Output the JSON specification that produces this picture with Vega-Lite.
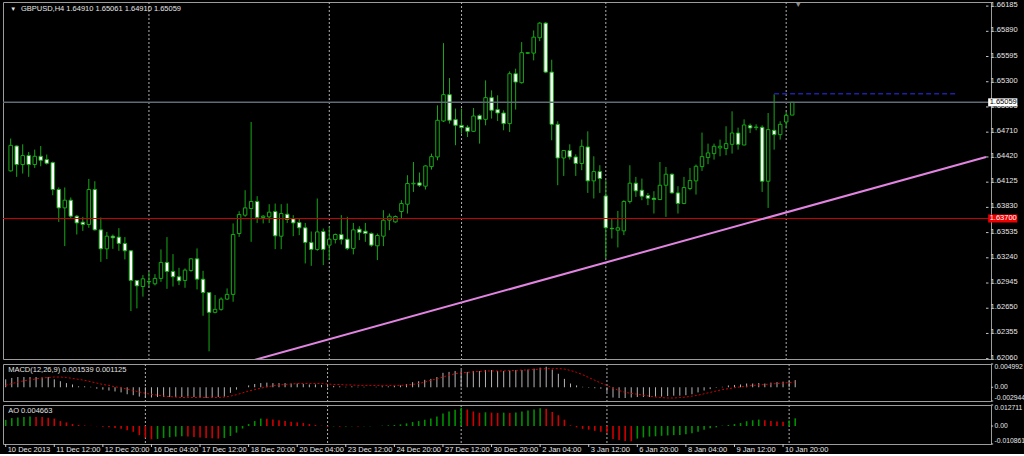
{
"$schema": "https://vega.github.io/schema/vega-lite/v6.json",
"background": "#000000",
"padding": {"left": 1, "top": 0, "right": 0, "bottom": 0},
"spacing": 1,
"config": {
 "view": {"stroke": "#9c9c9c", "strokeWidth": 1},
 "text": {"font": "Liberation Sans"}
},
"datasets": {"bars": [
{"i":0,"o":1.64257,"h":1.64635,"l":1.6425,"c":1.64556,"m":0.0017,"s":0.0004,"a":0.0037},
{"i":1,"o":1.64548,"h":1.64555,"l":1.64187,"c":1.64331,"m":0.002,"s":0.0008,"a":0.0048},
{"i":2,"o":1.64331,"h":1.64568,"l":1.64226,"c":1.64436,"m":0.0022,"s":0.0011,"a":0.0052},
{"i":3,"o":1.64436,"h":1.64478,"l":1.64187,"c":1.64331,"m":0.0022,"s":0.0014,"a":0.0055},
{"i":4,"o":1.64331,"h":1.64506,"l":1.64292,"c":1.64428,"m":0.0022,"s":0.0016,"a":0.0057},
{"i":5,"o":1.64428,"h":1.64548,"l":1.64311,"c":1.64381,"m":0.0022,"s":0.0018,"a":0.0055},
{"i":6,"o":1.64389,"h":1.64448,"l":1.64331,"c":1.64346,"m":0.0021,"s":0.002,"a":0.0054},
{"i":7,"o":1.64354,"h":1.64366,"l":1.63972,"c":1.64039,"m":0.0022,"s":0.0021,"a":0.005},
{"i":8,"o":1.64039,"h":1.64063,"l":1.6366,"c":1.63824,"m":0.0017,"s":0.0022,"a":0.0045},
{"i":9,"o":1.63824,"h":1.64063,"l":1.63377,"c":1.63914,"m":0.0013,"s":0.0022,"a":0.003},
{"i":10,"o":1.63914,"h":1.63946,"l":1.637,"c":1.63727,"m":0.0009,"s":0.0021,"a":0.0022},
{"i":11,"o":1.63727,"h":1.6374,"l":1.63513,"c":1.63648,"m":0.0006,"s":0.0019,"a":0.0012},
{"i":12,"o":1.63657,"h":1.63719,"l":1.63555,"c":1.6363,"m":0.0002,"s":0.0017,"a":0.0006},
{"i":13,"o":1.6363,"h":1.64163,"l":1.63591,"c":1.64039,"m":0.0002,"s":0.0015,"a":0.0003},
{"i":14,"o":1.64039,"h":1.64136,"l":1.6356,"c":1.63567,"m":0.0001,"s":0.0012,"a":0.0001},
{"i":15,"o":1.63567,"h":1.63712,"l":1.63193,"c":1.63345,"m":-0.0003,"s":0.0009,"a":-0.0001},
{"i":16,"o":1.63345,"h":1.63543,"l":1.63225,"c":1.63493,"m":-0.0005,"s":0.0006,"a":-0.0004},
{"i":17,"o":1.63493,"h":1.63513,"l":1.63345,"c":1.63474,"m":-0.0007,"s":0.0004,"a":-0.0008},
{"i":18,"o":1.63482,"h":1.63587,"l":1.63322,"c":1.63408,"m":-0.0009,"s":0.0001,"a":-0.0012},
{"i":19,"o":1.63408,"h":1.63482,"l":1.63221,"c":1.63322,"m":-0.0011,"s":-0.0001,"a":-0.0016},
{"i":20,"o":1.63322,"h":1.6333,"l":1.62617,"c":1.62975,"m":-0.0015,"s":-0.0004,"a":-0.0025},
{"i":21,"o":1.62975,"h":1.6298,"l":1.62648,"c":1.62912,"m":-0.0017,"s":-0.0007,"a":-0.0035},
{"i":22,"o":1.62904,"h":1.63038,"l":1.62786,"c":1.62994,"m":-0.002,"s":-0.001,"a":-0.0055},
{"i":23,"o":1.62959,"h":1.63076,"l":1.62904,"c":1.62962,"m":-0.0022,"s":-0.0013,"a":-0.007},
{"i":24,"o":1.62936,"h":1.63049,"l":1.62917,"c":1.62999,"m":-0.0022,"s":-0.0015,"a":-0.008},
{"i":25,"o":1.62999,"h":1.63338,"l":1.62959,"c":1.63186,"m":-0.0021,"s":-0.0017,"a":-0.0078},
{"i":26,"o":1.63186,"h":1.63482,"l":1.62877,"c":1.63081,"m":-0.0021,"s":-0.0019,"a":-0.0072},
{"i":27,"o":1.63081,"h":1.63283,"l":1.62904,"c":1.63018,"m":-0.0021,"s":-0.002,"a":-0.0068},
{"i":28,"o":1.63018,"h":1.63123,"l":1.62921,"c":1.62971,"m":-0.0021,"s":-0.0021,"a":-0.0064},
{"i":29,"o":1.62975,"h":1.63116,"l":1.62889,"c":1.63096,"m":-0.0021,"s":-0.0022,"a":-0.0062},
{"i":30,"o":1.63092,"h":1.63236,"l":1.63076,"c":1.63228,"m":-0.002,"s":-0.0022,"a":-0.0064},
{"i":31,"o":1.63228,"h":1.6335,"l":1.6287,"c":1.6299,"m":-0.0021,"s":-0.0022,"a":-0.0066},
{"i":32,"o":1.6299,"h":1.63088,"l":1.62562,"c":1.62833,"m":-0.0022,"s":-0.0022,"a":-0.0069},
{"i":33,"o":1.62833,"h":1.6284,"l":1.62146,"c":1.62602,"m":-0.0023,"s":-0.0022,"a":-0.0072},
{"i":34,"o":1.62602,"h":1.62804,"l":1.6259,"c":1.62637,"m":-0.0022,"s":-0.0022,"a":-0.0074},
{"i":35,"o":1.62637,"h":1.62777,"l":1.62621,"c":1.62757,"m":-0.0021,"s":-0.0022,"a":-0.0076},
{"i":36,"o":1.62757,"h":1.62882,"l":1.62746,"c":1.62812,"m":-0.002,"s":-0.0021,"a":-0.0072},
{"i":37,"o":1.62812,"h":1.63642,"l":1.62726,"c":1.63513,"m":-0.0012,"s":-0.0019,"a":-0.006},
{"i":38,"o":1.63524,"h":1.63785,"l":1.63485,"c":1.63746,"m":-0.0005,"s":-0.0016,"a":-0.004},
{"i":39,"o":1.63739,"h":1.64031,"l":1.63719,"c":1.63824,"m":0.0,"s":-0.0012,"a":-0.0015},
{"i":40,"o":1.63817,"h":1.64829,"l":1.63427,"c":1.63899,"m":0.0004,"s":-0.0008,"a":0.0012},
{"i":41,"o":1.63899,"h":1.63961,"l":1.63648,"c":1.63712,"m":0.0007,"s":-0.0005,"a":0.003},
{"i":42,"o":1.63712,"h":1.63739,"l":1.63642,"c":1.63727,"m":0.0009,"s":-0.0002,"a":0.0045},
{"i":43,"o":1.63719,"h":1.63867,"l":1.63648,"c":1.63774,"m":0.001,"s":0.0001,"a":0.0044},
{"i":44,"o":1.63782,"h":1.63875,"l":1.63341,"c":1.63497,"m":0.0009,"s":0.0003,"a":0.004},
{"i":45,"o":1.63493,"h":1.63867,"l":1.63341,"c":1.63758,"m":0.0009,"s":0.0005,"a":0.0035},
{"i":46,"o":1.6375,"h":1.63875,"l":1.63648,"c":1.63688,"m":0.0009,"s":0.0006,"a":0.003},
{"i":47,"o":1.63695,"h":1.63739,"l":1.63493,"c":1.63648,"m":0.0008,"s":0.0007,"a":0.0026},
{"i":48,"o":1.63653,"h":1.63695,"l":1.63505,"c":1.63591,"m":0.0008,"s":0.0008,"a":0.0022},
{"i":49,"o":1.63591,"h":1.63648,"l":1.63174,"c":1.6342,"m":0.0007,"s":0.0008,"a":0.0018},
{"i":50,"o":1.6342,"h":1.63548,"l":1.63146,"c":1.63338,"m":0.0006,"s":0.0008,"a":0.0012},
{"i":51,"o":1.63338,"h":1.63934,"l":1.63322,"c":1.63543,"m":0.0006,"s":0.0008,"a":0.0006},
{"i":52,"o":1.63548,"h":1.63583,"l":1.63154,"c":1.63338,"m":0.0005,"s":0.0008,"a":0.0002},
{"i":53,"o":1.63388,"h":1.63602,"l":1.63213,"c":1.63458,"m":0.0004,"s":0.0007,"a":-0.0005},
{"i":54,"o":1.63455,"h":1.63524,"l":1.63408,"c":1.63513,"m":0.0003,"s":0.0006,"a":-0.0002},
{"i":55,"o":1.63513,"h":1.63739,"l":1.63396,"c":1.63455,"m":0.0002,"s":0.0006,"a":-0.0004},
{"i":56,"o":1.63458,"h":1.63719,"l":1.6333,"c":1.6335,"m":0.0001,"s":0.0005,"a":-0.0003},
{"i":57,"o":1.6335,"h":1.63648,"l":1.6328,"c":1.63567,"m":0.0002,"s":0.0005,"a":-0.0002},
{"i":58,"o":1.63575,"h":1.6361,"l":1.63447,"c":1.63537,"m":0.0001,"s":0.0004,"a":-0.0003},
{"i":59,"o":1.63552,"h":1.63648,"l":1.63427,"c":1.63524,"m":0.0001,"s":0.0004,"a":-0.0002},
{"i":60,"o":1.63524,"h":1.63537,"l":1.63369,"c":1.63388,"m":0.0,"s":0.0004,"a":-0.0001},
{"i":61,"o":1.6338,"h":1.63524,"l":1.63213,"c":1.63501,"m":0.0001,"s":0.0004,"a":0.0},
{"i":62,"o":1.63493,"h":1.63797,"l":1.63377,"c":1.6368,"m":0.0002,"s":0.0004,"a":0.0002},
{"i":63,"o":1.6368,"h":1.63758,"l":1.63563,"c":1.63727,"m":0.0002,"s":0.0004,"a":0.0004},
{"i":64,"o":1.6366,"h":1.63735,"l":1.6365,"c":1.63723,"m":0.0003,"s":0.0004,"a":0.0006},
{"i":65,"o":1.63782,"h":1.63914,"l":1.637,"c":1.63875,"m":0.0004,"s":0.0004,"a":0.001},
{"i":66,"o":1.63867,"h":1.64206,"l":1.63758,"c":1.64109,"m":0.0007,"s":0.0005,"a":0.0016},
{"i":67,"o":1.64105,"h":1.64361,"l":1.64011,"c":1.64112,"m":0.0011,"s":0.0006,"a":0.0024},
{"i":68,"o":1.64117,"h":1.64238,"l":1.6407,"c":1.64089,"m":0.0013,"s":0.0008,"a":0.003},
{"i":69,"o":1.64078,"h":1.64323,"l":1.64039,"c":1.64315,"m":0.0016,"s":0.0011,"a":0.0038},
{"i":70,"o":1.64307,"h":1.64459,"l":1.64272,"c":1.64424,"m":0.0018,"s":0.0015,"a":0.0046},
{"i":71,"o":1.6442,"h":1.65024,"l":1.64381,"c":1.64849,"m":0.0022,"s":0.0018,"a":0.0058},
{"i":72,"o":1.64841,"h":1.65752,"l":1.64829,"c":1.65149,"m":0.0031,"s":0.0022,"a":0.0075},
{"i":73,"o":1.65149,"h":1.65343,"l":1.6481,"c":1.64849,"m":0.0033,"s":0.0026,"a":0.0088},
{"i":74,"o":1.64857,"h":1.64986,"l":1.64557,"c":1.6479,"m":0.0035,"s":0.0029,"a":0.0098},
{"i":75,"o":1.6479,"h":1.64986,"l":1.64693,"c":1.64763,"m":0.0037,"s":0.0031,"a":0.011},
{"i":76,"o":1.64767,"h":1.6479,"l":1.64654,"c":1.6472,"m":0.0033,"s":0.0032,"a":0.01},
{"i":77,"o":1.6472,"h":1.64993,"l":1.64712,"c":1.64899,"m":0.0035,"s":0.0033,"a":0.0088},
{"i":78,"o":1.64904,"h":1.64919,"l":1.64576,"c":1.6486,"m":0.0035,"s":0.0034,"a":0.008},
{"i":79,"o":1.6486,"h":1.65316,"l":1.6479,"c":1.65114,"m":0.0037,"s":0.0035,"a":0.0083},
{"i":80,"o":1.65114,"h":1.65199,"l":1.64869,"c":1.64966,"m":0.0037,"s":0.0035,"a":0.0081},
{"i":81,"o":1.64974,"h":1.65141,"l":1.64841,"c":1.64934,"m":0.0035,"s":0.0035,"a":0.0079},
{"i":82,"o":1.64934,"h":1.64966,"l":1.64732,"c":1.6481,"m":0.0035,"s":0.0035,"a":0.0081},
{"i":83,"o":1.6481,"h":1.65421,"l":1.64712,"c":1.65394,"m":0.0036,"s":0.0036,"a":0.0079},
{"i":84,"o":1.65394,"h":1.65453,"l":1.64974,"c":1.65296,"m":0.0037,"s":0.0036,"a":0.0082},
{"i":85,"o":1.65289,"h":1.65764,"l":1.65278,"c":1.6564,"m":0.0037,"s":0.0037,"a":0.0088},
{"i":86,"o":1.65633,"h":1.65648,"l":1.65625,"c":1.6564,"m":0.0038,"s":0.0037,"a":0.0094},
{"i":87,"o":1.65635,"h":1.659,"l":1.6555,"c":1.65822,"m":0.004,"s":0.0038,"a":0.01},
{"i":88,"o":1.65815,"h":1.65997,"l":1.65775,"c":1.65986,"m":0.0042,"s":0.0039,"a":0.0108},
{"i":89,"o":1.65986,"h":1.65997,"l":1.65401,"c":1.65413,"m":0.0044,"s":0.004,"a":0.0104},
{"i":90,"o":1.65413,"h":1.65558,"l":1.64615,"c":1.64802,"m":0.0038,"s":0.004,"a":0.0085},
{"i":91,"o":1.64802,"h":1.64837,"l":1.64089,"c":1.64408,"m":0.0029,"s":0.004,"a":0.0065},
{"i":92,"o":1.64408,"h":1.645,"l":1.64198,"c":1.64495,"m":0.0018,"s":0.0039,"a":0.0038},
{"i":93,"o":1.64495,"h":1.64568,"l":1.64389,"c":1.6442,"m":0.0008,"s":0.0036,"a":0.0004},
{"i":94,"o":1.6442,"h":1.64451,"l":1.64198,"c":1.64343,"m":0.0004,"s":0.0032,"a":-0.0008},
{"i":95,"o":1.64343,"h":1.64623,"l":1.64265,"c":1.64545,"m":0.0001,"s":0.0027,"a":-0.0017},
{"i":96,"o":1.64537,"h":1.6472,"l":1.63999,"c":1.6414,"m":-0.0001,"s":0.0021,"a":-0.0022},
{"i":97,"o":1.6414,"h":1.64428,"l":1.63934,"c":1.64249,"m":-0.0002,"s":0.0015,"a":-0.0029},
{"i":98,"o":1.64249,"h":1.64323,"l":1.63999,"c":1.64167,"m":-0.0003,"s":0.0009,"a":-0.0035},
{"i":99,"o":1.63964,"h":1.64148,"l":1.63233,"c":1.63591,"m":-0.001,"s":0.0004,"a":-0.004},
{"i":100,"o":1.63585,"h":1.637,"l":1.63466,"c":1.6358,"m":-0.0022,"s":-0.0002,"a":-0.0078},
{"i":101,"o":1.63563,"h":1.63789,"l":1.63361,"c":1.63591,"m":-0.0023,"s":-0.0007,"a":-0.0084},
{"i":102,"o":1.63555,"h":1.63914,"l":1.63505,"c":1.63899,"m":-0.0023,"s":-0.0011,"a":-0.009},
{"i":103,"o":1.63899,"h":1.64323,"l":1.63875,"c":1.64113,"m":-0.0022,"s":-0.0013,"a":-0.0092},
{"i":104,"o":1.64113,"h":1.64187,"l":1.63953,"c":1.64023,"m":-0.0021,"s":-0.0015,"a":-0.0076},
{"i":105,"o":1.64031,"h":1.64167,"l":1.63914,"c":1.63961,"m":-0.0021,"s":-0.0017,"a":-0.0069},
{"i":106,"o":1.63969,"h":1.63999,"l":1.63856,"c":1.63937,"m":-0.0021,"s":-0.0019,"a":-0.0064},
{"i":107,"o":1.63937,"h":1.64019,"l":1.63758,"c":1.63922,"m":-0.002,"s":-0.0021,"a":-0.0062},
{"i":108,"o":1.63922,"h":1.64361,"l":1.63914,"c":1.64089,"m":-0.002,"s":-0.0022,"a":-0.0059},
{"i":109,"o":1.64089,"h":1.64303,"l":1.63719,"c":1.64218,"m":-0.0019,"s":-0.0023,"a":-0.0057},
{"i":110,"o":1.64218,"h":1.64226,"l":1.63992,"c":1.63999,"m":-0.0018,"s":-0.0023,"a":-0.0055},
{"i":111,"o":1.63999,"h":1.64078,"l":1.63758,"c":1.63875,"m":-0.0018,"s":-0.0022,"a":-0.0054},
{"i":112,"o":1.63875,"h":1.64187,"l":1.63867,"c":1.64062,"m":-0.0017,"s":-0.0021,"a":-0.0049},
{"i":113,"o":1.64051,"h":1.64292,"l":1.64031,"c":1.64144,"m":-0.0015,"s":-0.0019,"a":-0.0043},
{"i":114,"o":1.6414,"h":1.64331,"l":1.6398,"c":1.64311,"m":-0.0011,"s":-0.0017,"a":-0.0035},
{"i":115,"o":1.64307,"h":1.64705,"l":1.64257,"c":1.64424,"m":-0.0007,"s":-0.0014,"a":-0.0022},
{"i":116,"o":1.64413,"h":1.64576,"l":1.64335,"c":1.64467,"m":-0.0004,"s":-0.0011,"a":-0.0014},
{"i":117,"o":1.64459,"h":1.64576,"l":1.64389,"c":1.64545,"m":-0.0001,"s":-0.0008,"a":-0.0008},
{"i":118,"o":1.64526,"h":1.64623,"l":1.64428,"c":1.64545,"m":0.0001,"s":-0.0005,"a":0.0002},
{"i":119,"o":1.64518,"h":1.64779,"l":1.6444,"c":1.64576,"m":0.0004,"s":-0.0003,"a":0.0006},
{"i":120,"o":1.64568,"h":1.64954,"l":1.64459,"c":1.647,"m":0.0005,"s":-0.0001,"a":0.0012},
{"i":121,"o":1.647,"h":1.64763,"l":1.64506,"c":1.64568,"m":0.0006,"s":0.0001,"a":0.0018},
{"i":122,"o":1.6456,"h":1.6486,"l":1.64557,"c":1.64794,"m":0.0008,"s":0.0002,"a":0.0029},
{"i":123,"o":1.64786,"h":1.6481,"l":1.647,"c":1.64759,"m":0.0008,"s":0.0004,"a":0.0035},
{"i":124,"o":1.64763,"h":1.64802,"l":1.64732,"c":1.6477,"m":0.0009,"s":0.0005,"a":0.0039},
{"i":125,"o":1.64767,"h":1.6479,"l":1.64011,"c":1.64136,"m":0.0008,"s":0.0006,"a":0.0035},
{"i":126,"o":1.64136,"h":1.64934,"l":1.63824,"c":1.6474,"m":0.001,"s":0.0007,"a":0.0031},
{"i":127,"o":1.64732,"h":1.65153,"l":1.64506,"c":1.64681,"m":0.0011,"s":0.0008,"a":0.0027},
{"i":128,"o":1.64681,"h":1.64837,"l":1.64623,"c":1.64802,"m":0.0012,"s":0.0009,"a":0.0026},
{"i":129,"o":1.64829,"h":1.64946,"l":1.64752,"c":1.64907,"m":0.0013,"s":0.001,"a":0.0033},
{"i":130,"o":1.6491,"h":1.65061,"l":1.6491,"c":1.65059,"m":0.001539,"s":0.001125,"a":0.004663}
],
"seps": [{"t":23},{"t":53},{"t":75},{"t":99},{"t":129}],
"one": [{}],
"priceTicks": [{"v":1.66185},{"v":1.6589},{"v":1.65595},{"v":1.653},{"v":1.65005},{"v":1.6471},{"v":1.6442},{"v":1.64125},{"v":1.6383},{"v":1.63535},{"v":1.6324},{"v":1.62945},{"v":1.6265},{"v":1.62355},{"v":1.6206}],
"macdTicks": [{"v":0.004992},{"v":0},{"v":-0.002944}],
"aoTicks": [{"v":0.012711},{"v":0},{"v":-0.010861}],
"timeTicks": [{"t":0,"lab":"10 Dec 2013"},{"t":8,"lab":"11 Dec 12:00"},{"t":16,"lab":"12 Dec 20:00"},{"t":24,"lab":"16 Dec 04:00"},{"t":32,"lab":"17 Dec 12:00"},{"t":40,"lab":"18 Dec 20:00"},{"t":48,"lab":"20 Dec 04:00"},{"t":56,"lab":"23 Dec 12:00"},{"t":64,"lab":"24 Dec 20:00"},{"t":72,"lab":"27 Dec 12:00"},{"t":80,"lab":"30 Dec 20:00"},{"t":88,"lab":"2 Jan 04:00"},{"t":96,"lab":"3 Jan 12:00"},{"t":104,"lab":"6 Jan 20:00"},{"t":112,"lab":"8 Jan 04:00"},{"t":120,"lab":"9 Jan 12:00"},{"t":128,"lab":"10 Jan 20:00"}]
},
"vconcat": [
{
 "width": 988, "height": 357,
 "data": {"name": "bars"},
 "layer": [
  {"data": {"name": "seps"}, "mark": {"type": "rule", "color": "#b0b0b0", "strokeDash": [2, 2], "strokeWidth": 1},
   "encoding": {"x": {"field": "t", "type": "quantitative", "scale": {"domain": [-0.445, 162.24], "nice": false, "zero": false}, "axis": null}}},
  {"mark": {"type": "rule", "color": "#16a816", "strokeWidth": 1, "clip": true},
   "encoding": {"x": {"field": "i", "type": "quantitative", "scale": {"domain": [-0.445, 162.24], "nice": false, "zero": false}, "axis": null},
    "y": {"field": "l", "type": "quantitative", "scale": {"domain": [1.62056, 1.66233], "nice": false, "zero": false}, "axis": null},
    "y2": {"field": "h"}}},
  {"mark": {"type": "bar", "width": 3.5, "stroke": "#16a816", "strokeWidth": 1, "orient": "vertical", "clip": true},
   "encoding": {"x": {"field": "i", "type": "quantitative", "axis": null},
    "y": {"field": "o", "type": "quantitative", "axis": null},
    "y2": {"field": "c"},
    "fill": {"condition": {"test": "datum.o > datum.c", "value": "#ffffff"}, "value": "#000000"}}},
  {"data": {"name": "one"}, "mark": {"type": "rule", "color": "#cc0000", "strokeWidth": 1},
   "encoding": {"y": {"datum": 1.637, "type": "quantitative", "axis": null}}},
  {"data": {"name": "one"}, "mark": {"type": "rule", "color": "#5f6b77", "strokeWidth": 1.5},
   "encoding": {"y": {"datum": 1.65059, "type": "quantitative", "axis": null}}},
  {"data": {"name": "one"}, "mark": {"type": "rule", "color": "#1f1fa8", "strokeWidth": 1.5, "strokeDash": [5, 3]},
   "encoding": {"x": {"datum": 127, "type": "quantitative", "axis": null},
    "x2": {"datum": 157.2},
    "y": {"datum": 1.6516, "type": "quantitative", "axis": null}}},
  {"data": {"values": [{"ti": 40, "tp": 1.62034}, {"ti": 162.24, "tp": 1.6442}]}, "mark": {"type": "line", "color": "#e284e2", "strokeWidth": 2, "clip": true},
   "encoding": {"x": {"field": "ti", "type": "quantitative", "axis": null},
    "y": {"field": "tp", "type": "quantitative", "axis": null}}},
  {"data": {"name": "one"}, "mark": {"type": "text", "align": "center", "baseline": "middle", "fontSize": 6, "color": "#e6e6e6"},
   "encoding": {"x": {"datum": 0.43, "type": "quantitative", "axis": null}, "y": {"datum": 1.66154, "type": "quantitative", "axis": null}, "text": {"value": "▼"}}},
  {"data": {"name": "one"}, "mark": {"type": "text", "align": "left", "baseline": "middle", "fontSize": 7.5, "color": "#e6e6e6"},
   "encoding": {"x": {"datum": 1.7, "type": "quantitative", "axis": null}, "y": {"datum": 1.66154, "type": "quantitative", "axis": null}, "text": {"value": "GBPUSD,H4 1.64910 1.65061 1.64910 1.65059"}}},
  {"data": {"name": "one"}, "mark": {"type": "text", "align": "center", "baseline": "middle", "fontSize": 7, "color": "#8c8c8c"},
   "encoding": {"x": {"datum": 131.0, "type": "quantitative", "axis": null}, "y": {"datum": 1.66201, "type": "quantitative", "axis": null}, "text": {"value": "▼"}}},
  {"data": {"name": "priceTicks"}, "mark": {"type": "rule", "color": "#c8c8c8", "strokeWidth": 1, "clip": false},
   "encoding": {"x": {"datum": 162.24, "type": "quantitative", "axis": null}, "x2": {"datum": 162.65}, "y": {"field": "v", "type": "quantitative", "axis": null}}},
  {"data": {"name": "priceTicks"}, "mark": {"type": "text", "align": "left", "baseline": "middle", "fontSize": 7.5, "color": "#e6e6e6", "clip": false, "dy": -1},
   "encoding": {"x": {"datum": 163.0, "type": "quantitative", "axis": null}, "y": {"field": "v", "type": "quantitative", "axis": null}, "text": {"field": "v", "type": "quantitative", "format": ".5f"}}},
  {"data": {"name": "one"}, "mark": {"type": "rect", "color": "#ffffff", "clip": false},
   "encoding": {"x": {"datum": 162.6, "type": "quantitative", "axis": null}, "x2": {"datum": 167.45}, "y": {"datum": 1.65106, "type": "quantitative", "axis": null}, "y2": {"datum": 1.65012}}},
  {"data": {"name": "one"}, "mark": {"type": "text", "align": "left", "baseline": "middle", "fontSize": 7.5, "color": "#000000", "clip": false},
   "encoding": {"x": {"datum": 162.85, "type": "quantitative", "axis": null}, "y": {"datum": 1.65059, "type": "quantitative", "axis": null}, "text": {"value": "1.65059"}}},
  {"data": {"name": "one"}, "mark": {"type": "rect", "color": "#ee0000", "clip": false},
   "encoding": {"x": {"datum": 162.6, "type": "quantitative", "axis": null}, "x2": {"datum": 167.45}, "y": {"datum": 1.63747, "type": "quantitative", "axis": null}, "y2": {"datum": 1.63653}}},
  {"data": {"name": "one"}, "mark": {"type": "text", "align": "left", "baseline": "middle", "fontSize": 7.5, "color": "#ffffff", "clip": false},
   "encoding": {"x": {"datum": 162.85, "type": "quantitative", "axis": null}, "y": {"datum": 1.637, "type": "quantitative", "axis": null}, "text": {"value": "1.63700"}}}
 ]
},
{
 "width": 988, "height": 37,
 "data": {"name": "bars"},
 "layer": [
  {"data": {"name": "seps"}, "mark": {"type": "rule", "color": "#b0b0b0", "strokeDash": [2, 2], "strokeWidth": 1},
   "encoding": {"x": {"field": "t", "type": "quantitative", "scale": {"domain": [-0.445, 162.24], "nice": false, "zero": false}, "axis": null}}},
  {"mark": {"type": "rule", "color": "#b4b4b4", "strokeWidth": 1},
   "encoding": {"x": {"field": "i", "type": "quantitative", "scale": {"domain": [-0.445, 162.24], "nice": false, "zero": false}, "axis": null},
    "y": {"field": "m", "type": "quantitative", "scale": {"domain": [-0.002944, 0.004992], "nice": false, "zero": false}, "axis": null},
    "y2": {"datum": 0}}},
  {"mark": {"type": "line", "color": "#d40000", "strokeWidth": 1, "strokeDash": [2, 2]},
   "encoding": {"x": {"field": "i", "type": "quantitative", "axis": null},
    "y": {"field": "s", "type": "quantitative", "axis": null}}},
  {"data": {"name": "one"}, "mark": {"type": "text", "align": "left", "baseline": "middle", "fontSize": 7.5, "color": "#e0e0e0"},
   "encoding": {"x": {"datum": 0.4, "type": "quantitative", "axis": null}, "y": {"datum": 0.003598, "type": "quantitative", "axis": null}, "text": {"value": "MACD(12,26,9) 0.001539 0.001125"}}},
  {"data": {"name": "macdTicks"}, "mark": {"type": "rule", "color": "#c8c8c8", "strokeWidth": 1, "clip": false},
   "encoding": {"x": {"datum": 162.24, "type": "quantitative", "axis": null}, "x2": {"datum": 162.6}, "y": {"field": "v", "type": "quantitative", "axis": null}}},
  {"data": {"name": "one"}, "mark": {"type": "text", "align": "left", "baseline": "top", "fontSize": 6.8, "color": "#e6e6e6", "clip": false},
   "encoding": {"x": {"datum": 162.82, "type": "quantitative", "axis": null}, "y": {"datum": 0.004992, "type": "quantitative", "axis": null}, "text": {"value": "0.004992"}}},
  {"data": {"name": "one"}, "mark": {"type": "text", "align": "left", "baseline": "middle", "fontSize": 6.8, "color": "#e6e6e6", "clip": false},
   "encoding": {"x": {"datum": 162.82, "type": "quantitative", "axis": null}, "y": {"datum": 0, "type": "quantitative", "axis": null}, "text": {"value": "0.00"}}},
  {"data": {"name": "one"}, "mark": {"type": "text", "align": "left", "baseline": "bottom", "fontSize": 6.8, "color": "#e6e6e6", "clip": false},
   "encoding": {"x": {"datum": 162.82, "type": "quantitative", "axis": null}, "y": {"datum": -0.002944, "type": "quantitative", "axis": null}, "text": {"value": "-0.002944"}}}
 ]
},
{
 "width": 988, "height": 39,
 "data": {"name": "bars"},
 "layer": [
  {"data": {"name": "seps"}, "mark": {"type": "rule", "color": "#b0b0b0", "strokeDash": [2, 2], "strokeWidth": 1},
   "encoding": {"x": {"field": "t", "type": "quantitative", "scale": {"domain": [-0.445, 162.24], "nice": false, "zero": false}, "axis": null}}},
  {"transform": [{"window": [{"op": "lag", "field": "a", "as": "ap"}], "sort": [{"field": "i"}]}],
   "mark": {"type": "rule", "strokeWidth": 1.6},
   "encoding": {"x": {"field": "i", "type": "quantitative", "scale": {"domain": [-0.445, 162.24], "nice": false, "zero": false}, "axis": null},
    "y": {"field": "a", "type": "quantitative", "scale": {"domain": [-0.010861, 0.012711], "nice": false, "zero": false}, "axis": null},
    "y2": {"datum": 0},
    "color": {"condition": {"test": "datum.ap == null || datum.a > datum.ap", "value": "#009000"}, "value": "#d00000"}}},
  {"data": {"name": "one"}, "mark": {"type": "text", "align": "left", "baseline": "middle", "fontSize": 7.5, "color": "#e0e0e0"},
   "encoding": {"x": {"datum": 0.4, "type": "quantitative", "axis": null}, "y": {"datum": 0.009087, "type": "quantitative", "axis": null}, "text": {"value": "AO 0.004663"}}},
  {"data": {"name": "aoTicks"}, "mark": {"type": "rule", "color": "#c8c8c8", "strokeWidth": 1, "clip": false},
   "encoding": {"x": {"datum": 162.24, "type": "quantitative", "axis": null}, "x2": {"datum": 162.6}, "y": {"field": "v", "type": "quantitative", "axis": null}}},
  {"data": {"name": "one"}, "mark": {"type": "text", "align": "left", "baseline": "top", "fontSize": 6.8, "color": "#e6e6e6", "clip": false},
   "encoding": {"x": {"datum": 162.82, "type": "quantitative", "axis": null}, "y": {"datum": 0.012711, "type": "quantitative", "axis": null}, "text": {"value": "0.012711"}}},
  {"data": {"name": "one"}, "mark": {"type": "text", "align": "left", "baseline": "middle", "fontSize": 6.8, "color": "#e6e6e6", "clip": false},
   "encoding": {"x": {"datum": 162.82, "type": "quantitative", "axis": null}, "y": {"datum": 0, "type": "quantitative", "axis": null}, "text": {"value": "0.00"}}},
  {"data": {"name": "one"}, "mark": {"type": "text", "align": "left", "baseline": "bottom", "fontSize": 6.8, "color": "#e6e6e6", "clip": false},
   "encoding": {"x": {"datum": 162.82, "type": "quantitative", "axis": null}, "y": {"datum": -0.010861, "type": "quantitative", "axis": null}, "text": {"value": "-0.010861"}}},
  {"data": {"name": "timeTicks"}, "mark": {"type": "rule", "color": "#c8c8c8", "strokeWidth": 1, "clip": false},
   "encoding": {"x": {"field": "t", "type": "quantitative", "axis": null}, "y": {"datum": -0.010861, "type": "quantitative", "axis": null}, "y2": {"datum": -0.01267}}},
  {"data": {"name": "timeTicks"}, "mark": {"type": "text", "align": "left", "baseline": "middle", "fontSize": 7.5, "color": "#e6e6e6", "clip": false, "dx": 2},
   "encoding": {"x": {"field": "t", "type": "quantitative", "axis": null}, "y": {"datum": -0.0142, "type": "quantitative", "axis": null}, "text": {"field": "lab", "type": "nominal"}}}
 ]
}
]
}
